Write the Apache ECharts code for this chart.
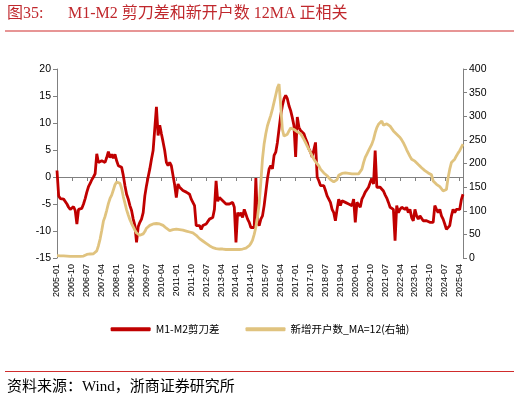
<!DOCTYPE html>
<html>
<head>
<meta charset="utf-8">
<script src="https://cdn.jsdelivr.net/npm/echarts@6/dist/echarts.min.js"></script>
<style>
html,body{margin:0;padding:0;background:#fff;}
#c{width:520px;height:402px;}
</style>
</head>
<body>
<div id="c"></div>
<script>
// Months 2005-01 .. 2025-06
var startYear = 2005, startMonth = 1, monthCount = 246;
var categories = [];
for (var k = 0; k < monthCount; k++) {
  var m = startMonth - 1 + k;
  var y = startYear + Math.floor(m / 12);
  var mm = (m % 12) + 1;
  categories.push(y + '-' + (mm < 10 ? '0' + mm : '' + mm));
}

var seriesNames = ['M1-M2剪刀差', '新增开户数_MA=12(右轴)'];

// M1-M2 spread (%), left axis
var m1m2Spread = [
  1.2,-3.5,-4.0,-4.0,-4.1,-4.4,-5.0,-5.6,-6.0,-5.8,-5.5,-6.2,
  -8.7,-6.0,-6.2,-5.8,-5.0,-4.0,-2.8,-1.8,-1.2,-0.5,0.0,0.6,
  4.3,2.7,2.8,3.0,3.3,2.7,3.6,4.7,3.6,4.2,3.5,4.2,
  3.0,2.1,2.1,1.8,0.3,-1.6,-3.2,-4.1,-5.3,-6.2,-7.8,-9.0,
  -12.1,-9.2,-8.4,-7.8,-6.6,-3.5,-1.6,0.0,1.5,3.3,4.9,4.7,
  13.0,7.7,9.6,8.0,6.5,4.9,2.7,2.1,2.7,2.1,0.3,-1.5,
  -3.8,-1.3,-1.9,-2.2,-2.5,-2.2,-2.8,-2.5,-3.2,-4.1,-4.4,-5.3,
  -9.0,-9.35,-9.0,-9.7,-9.0,-9.35,-8.7,-9.0,-7.8,-8.1,-7.5,-6.0,
  -0.7,-4.5,-3.8,-4.1,-4.4,-4.7,-5.0,-4.7,-5.0,-5.3,-4.7,-5.6,
  -12.1,-6.6,-7.2,-6.6,-7.5,-6.0,-6.9,-7.8,-8.4,-9.35,-9.0,-9.35,
  -0.2,-8.4,-9.0,-7.8,-7.2,-5.3,-2.8,-0.3,1.5,2.1,1.5,4.0,
  4.6,6.4,8.9,11.4,13.2,14.5,15.1,14.5,13.2,12.3,11.0,9.5,
  3.7,11.1,9.2,8.6,8.4,8.0,7.1,6.4,5.2,4.6,3.7,3.4,
  6.4,0.0,-0.7,-1.6,-1.9,-1.6,-2.5,-3.5,-4.1,-4.7,-6.0,-6.6,
  -8.1,-6.0,-4.1,-5.3,-4.4,-4.1,-4.7,-4.7,-5.0,-4.7,-5.3,-4.1,
  -8.4,-4.7,-4.4,-5.6,-4.1,-3.5,-2.8,-2.8,-1.9,-1.0,-0.3,-1.3,
  4.9,-1.9,-2.2,-1.9,-2.0,-2.6,-3.3,-3.9,-4.7,-5.6,-5.4,-6.0,
  -11.8,-5.3,-6.6,-6.0,-5.6,-5.3,-6.0,-5.6,-6.6,-6.0,-7.5,-8.1,
  -6.0,-7.2,-7.8,-7.2,-6.9,-8.1,-8.4,-8.1,-8.4,-8.4,-8.7,-8.4,
  -5.3,-6.0,-6.6,-6.0,-7.2,-7.8,-8.7,-9.7,-10.0,-9.0,-7.2,-6.0,
  -6.6,-6.0,-6.2,-6.0,-4.2,-3.2
];

// New accounts, 12-month moving average, right axis
var newAccountsMA12 = [
  5,5,4.5,4.5,4.5,4,4,4,3.5,3.5,3.5,3.5,
  3.5,3.5,3.5,3.5,4,6,7.5,8,8.5,8.5,9,11,
  15,26,40,58,78,88,101,115,126,133,144,155,
  161,163,158,147,130,116,102,91,81,73,66,59,
  53,49,48,47,51,56,63,67,69,70,72,74,
  73,72,72,71,69,66,63,60,58,58,60,62,
  61,60,60,60,59,58,57,56,55,54,53,51,
  48,45,41,38,36,33,31,29,26,24,22,21,
  20,20,19,19,19,19,18,18,18,18,18,18,
  18,18,18,19,19,20,21,23,26,31,38,50,
  65,86,115,160,210,242,263,280,291,302,315,330,
  345,360,368,322,272,258,256,262,269,275,275,272,
  269,267,265,263,257,251,244,237,230,223,216,209,
  204,200,195,188,184,180,177,174,170,166,163,161,
  159,166,175,178,179,180,180,180,179,179,178,178,
  178,178,178,180,188,202,213,220,227,234,241,251,
  265,276,283,286,290,281,282,284,282,279,275,269,
  265,262,258,255,250,244,237,229,222,215,209,209,
  205,202,198,195,191,188,185,183,180,178,176,163,
  159,156,154,151,147,142,138,145,170,188,202,205,
  209,216,222,227,230,241
];

var leftTicks = {min: -15, max: 20, interval: 5};
var rightTicks = {min: 0, max: 400, interval: 50};

var RED = '#C00000';
var GOLD = '#E0C37F';
var AXIS = '#808080';
var TITLE_RED = '#C0282D';

var chart = echarts.init(document.getElementById('c'), null, {renderer: 'canvas'});
chart.setOption({
  animation: false,
  backgroundColor: '#ffffff',
  grid: {left: 57, right: 57, top: 69, bottom: 144, containLabel: false},
  graphic: [
    {type: 'text', left: 7, top: 6, style: {text: '图35:', font: '16px "Liberation Serif", "Noto Sans CJK SC", serif', fill: TITLE_RED}},
    {type: 'text', left: 68, top: 6, style: {text: 'M1-M2 剪刀差和新开户数 12MA 正相关', font: '16px "Liberation Serif", "Noto Sans CJK SC", serif', fill: TITLE_RED}},
    {type: 'rect', shape: {x: 5, y: 30.5, width: 509, height: 1}, style: {fill: '#D02C2C'}},
    {type: 'rect', shape: {x: 5, y: 371, width: 509, height: 1}, style: {fill: '#D02C2C'}},
    {type: 'text', left: 7, top: 380, style: {text: '资料来源：Wind，浙商证券研究所', font: '15px "Liberation Serif", "Noto Sans CJK SC", serif', fill: '#000'}}
  ],
  legend: {
    left: 'center',
    top: 319,
    itemWidth: 40,
    itemHeight: 4,
    itemGap: 26,
    icon: 'roundRect',
    textStyle: {fontSize: 10.5, color: '#000', fontFamily: '"Noto Sans CJK SC", sans-serif'},
    data: seriesNames
  },
  xAxis: [
    {
      type: 'category',
      data: categories,
      boundaryGap: false,
      position: 'top',
      axisLine: {show: true, onZero: true, onZeroAxisIndex: 0, lineStyle: {color: AXIS, width: 1}},
      axisTick: {show: true, inside: true, interval: 8, length: 4, lineStyle: {color: AXIS}},
      axisLabel: {show: false},
      splitLine: {show: false}
    },
    {
      type: 'category',
      data: categories,
      boundaryGap: false,
      position: 'bottom',
      axisLine: {show: false, onZero: false},
      axisTick: {show: false},
      axisLabel: {show: true, interval: 8, rotate: 90, fontSize: 9, margin: 6, color: '#000', fontFamily: '"Liberation Sans", Arial, sans-serif'},
      splitLine: {show: false}
    }
  ],
  yAxis: [
    {
      type: 'value',
      min: leftTicks.min, max: leftTicks.max, interval: leftTicks.interval,
      position: 'left',
      axisLine: {show: true, onZero: false, lineStyle: {color: AXIS}},
      axisTick: {show: true, length: 4, lineStyle: {color: AXIS}},
      axisLabel: {fontSize: 10.5, color: '#000', margin: 6, fontFamily: '"Liberation Sans", Arial, sans-serif'},
      splitLine: {show: false}
    },
    {
      type: 'value',
      min: rightTicks.min, max: rightTicks.max, interval: rightTicks.interval,
      position: 'right',
      axisLine: {show: true, onZero: false, lineStyle: {color: AXIS}},
      axisTick: {show: true, length: 4, lineStyle: {color: AXIS}},
      axisLabel: {fontSize: 10.5, color: '#000', margin: 6, fontFamily: '"Liberation Sans", Arial, sans-serif'},
      splitLine: {show: false}
    }
  ],
  series: [
    {
      name: seriesNames[0],
      type: 'line',
      xAxisIndex: 0,
      yAxisIndex: 0,
      data: m1m2Spread,
      showSymbol: false,
      symbol: 'none',
      lineStyle: {color: RED, width: 2.8},
      itemStyle: {color: RED}
    },
    {
      name: seriesNames[1],
      type: 'line',
      xAxisIndex: 0,
      yAxisIndex: 1,
      data: newAccountsMA12,
      showSymbol: false,
      symbol: 'none',
      lineStyle: {color: GOLD, width: 2.8},
      itemStyle: {color: GOLD}
    }
  ]
});
</script>
</body>
</html>
